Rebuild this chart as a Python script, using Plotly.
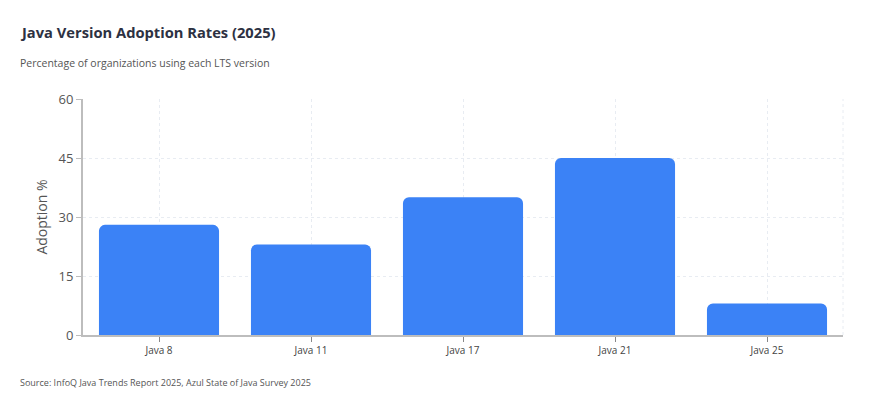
import plotly.graph_objects as go

categories = ["Java 8", "Java 11", "Java 17", "Java 21", "Java 25"]
adoption = [28, 23, 35, 45, 8]
y_ticks = [0, 15, 30, 45, 60]

FONT = "Open Sans, Segoe UI, sans-serif"

fig = go.Figure(go.Bar(
    x=categories, y=adoption,
    marker=dict(color="#3B82F6", cornerradius=6, line=dict(width=0)),
    hovertemplate="%{x}: %{y}%<extra></extra>",
))

fig.update_layout(
    width=882, height=405,
    margin=dict(l=83, r=39, t=99, b=70),
    paper_bgcolor="white", plot_bgcolor="white",
    bargap=0.21,
    showlegend=False,
    font=dict(family=FONT, color="#444"),
    xaxis=dict(
        showline=True, linecolor="#bdbdbd", linewidth=2,
        ticks="outside", tickcolor="#888", ticklen=5, tickwidth=1,
        showgrid=True, gridcolor="#e8ecf2", griddash="dot", gridwidth=1,
        tickfont=dict(size=10, color="#444"),
    ),
    yaxis=dict(
        range=[0, 60], tickvals=y_ticks,
        showline=True, linecolor="#bdbdbd", linewidth=2,
        ticks="outside", tickcolor="#bdbdbd", ticklen=5, tickwidth=1,
        showgrid=True, gridcolor="#e8ecf2", griddash="dot", gridwidth=1,
        zeroline=False,
        tickfont=dict(size=13, color="#555"),
        title=dict(text="Adoption %", font=dict(size=14, color="#555"), standoff=8),
    ),
    shapes=[dict(type="line", xref="paper", yref="paper", x0=1, x1=1, y0=0, y1=1,
                 line=dict(color="#e8ecf2", width=1, dash="dot"))],
    annotations=[
        dict(text="<b>Java Version Adoption Rates (2025)</b>", xref="paper", yref="paper",
             x=0, y=0, xanchor="left", yanchor="middle", showarrow=False,
             font=dict(size=14.7, color="#2d3142", family=FONT)),
        dict(text="Percentage of organizations using each LTS version", xref="paper", yref="paper",
             x=0, y=0, xanchor="left", yanchor="middle", showarrow=False,
             font=dict(size=10.5, color="#555", family=FONT)),
        dict(text="Source: InfoQ Java Trends Report 2025, Azul State of Java Survey 2025",
             xref="paper", yref="paper", x=0, y=0, xanchor="left", yanchor="middle",
             showarrow=False, font=dict(size=9, color="#555", family=FONT)),
    ],
)

# position header/footer text in pixel terms
plot_h = 405 - 99 - 70
plot_w = 882 - 83 - 39
def px(xp, yp):
    return ((xp - 83) / plot_w, (405 - 70 - yp) / plot_h)

for ann, (xp, yp) in zip(fig.layout.annotations, [(18, 32), (18, 63), (18, 382)]):
    ax, ay = px(xp, yp)
    ann.x = ax
    ann.y = ay

fig.write_html("out.html")
